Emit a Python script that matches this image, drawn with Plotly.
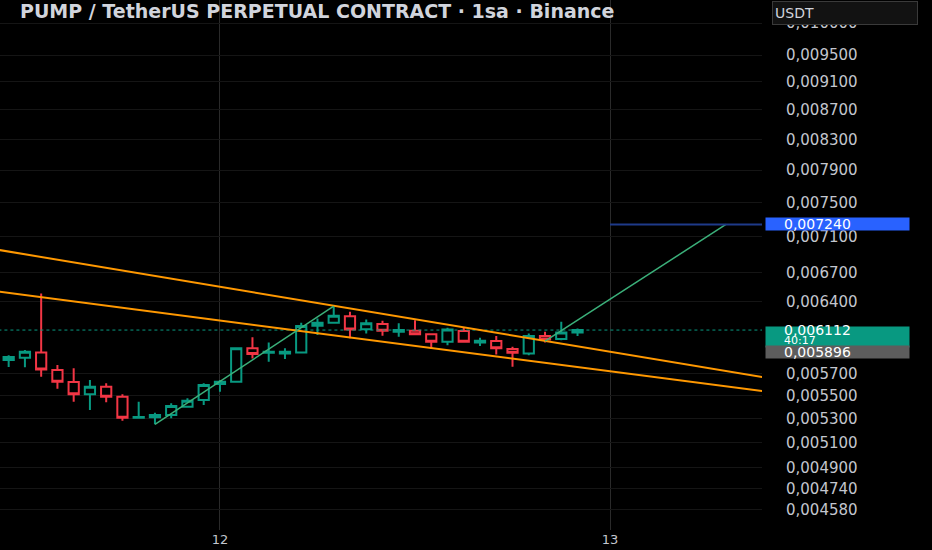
import math
import pandas as pd
import plotly.graph_objects as go

# hourly candles (1sa), 11 Jul 11:00 -> 12 Jul 22:00
times = pd.date_range('2025-07-11 11:00', periods=36, freq='h')
opens = [0.005825, 0.005846, 0.005897, 0.005732, 0.005623, 0.005513, 0.005581, 0.005492, 0.005310,
         0.005314, 0.005333, 0.005405, 0.005463, 0.005605, 0.005626, 0.005935, 0.005893, 0.005887,
         0.005897, 0.006154, 0.006184, 0.006250, 0.006121, 0.006171, 0.006095, 0.006105, 0.006070,
         0.005998, 0.006102, 0.005992, 0.006005, 0.005928, 0.005887, 0.006053, 0.006024, 0.006089]
highs = [0.005871, 0.005919, 0.006482, 0.005778, 0.005748, 0.005641, 0.005611, 0.005513, 0.005448,
         0.005353, 0.005434, 0.005478, 0.005611, 0.005641, 0.005941, 0.006041, 0.005990, 0.005935,
         0.006184, 0.006227, 0.006351, 0.006294, 0.006217, 0.006204, 0.006178, 0.006210, 0.006070,
         0.006134, 0.006134, 0.006037, 0.006053, 0.005950, 0.006079, 0.006095, 0.006194, 0.006128]
lows = [0.005760, 0.005757, 0.005671, 0.005563, 0.005448, 0.005376, 0.005443, 0.005285, 0.005308,
        0.005254, 0.005305, 0.005396, 0.005419, 0.005536, 0.005626, 0.005840, 0.005809, 0.005834,
        0.005897, 0.006063, 0.006184, 0.006031, 0.006079, 0.006056, 0.006046, 0.006063, 0.005928,
        0.005966, 0.005998, 0.005957, 0.005878, 0.005762, 0.005871, 0.005992, 0.006014, 0.006053]
closes = [0.005853, 0.005903, 0.005738, 0.005626, 0.005513, 0.005581, 0.005492, 0.005310, 0.005316,
          0.005333, 0.005411, 0.005457, 0.005596, 0.005626, 0.005935, 0.005881, 0.005903, 0.005903,
          0.006151, 0.006184, 0.006253, 0.006118, 0.006178, 0.006105, 0.006112, 0.006070, 0.005998,
          0.006118, 0.005998, 0.006008, 0.005935, 0.005893, 0.006053, 0.006021, 0.006089, 0.006112]

# drawings (time, price)
upper_t = ['2025-07-11 10:00', '2025-07-13 10:00']
upper_p = [0.006962, 0.005652]
lower_t = ['2025-07-11 10:00', '2025-07-13 10:00']
lower_p = [0.006509, 0.005530]
rise_t = ['2025-07-11 20:00', '2025-07-12 07:00']
rise_p = [0.005254, 0.006351]
proj_t = ['2025-07-12 20:00', '2025-07-13 07:08']
proj_p = [0.006005, 0.007240]
target_t = ['2025-07-13 00:00', '2025-07-13 10:00']
target_price = 0.007240
last_price = 0.006112
prev_price = 0.005896
countdown = '40:17'

tick_vals = [0.0100, 0.0095, 0.0091, 0.0087, 0.0083, 0.0079, 0.0075, 0.0071, 0.0067, 0.0064,
             0.0057, 0.0055, 0.0053, 0.0051, 0.0049, 0.00474, 0.00458]
tick_text = [f'{v:.6f}'.replace('.', ',') for v in tick_vals]

fmt = lambda v: f'{v:.6f}'.replace('.', ',')

fig = go.Figure()
fig.add_trace(go.Candlestick(
    x=times, open=opens, high=highs, low=lows, close=closes,
    increasing=dict(line=dict(color='#089981', width=2), fillcolor='#000000'),
    decreasing=dict(line=dict(color='#f23645', width=2), fillcolor='#000000'),
    showlegend=False, hoverinfo='skip'))

fig.add_trace(go.Scatter(x=lower_t, y=[last_price, last_price], mode='lines',
                         line=dict(color='#089981', width=1, dash='dot'), showlegend=False))
for tt, pp in [(upper_t, upper_p), (lower_t, lower_p)]:
    fig.add_trace(go.Scatter(x=tt, y=pp, mode='lines',
                             line=dict(color='#ff9800', width=2), showlegend=False))
for tt, pp in [(rise_t, rise_p), (proj_t, proj_p)]:
    fig.add_trace(go.Scatter(x=tt, y=pp, mode='lines',
                             line=dict(color='#3bb07a', width=1.5), showlegend=False))
fig.add_trace(go.Scatter(x=target_t, y=[target_price, target_price], mode='lines',
                         line=dict(color='#1e3a8a', width=2), showlegend=False))

annots = [
    dict(text='<b>PUMP / TetherUS PERPETUAL CONTRACT · 1sa · Binance</b>', xref='paper', yref='paper',
         x=0.024, y=0.979, xanchor='left', yanchor='middle', showarrow=False,
         font=dict(family='DejaVu Sans', size=19, color='#d1d4dc')),
    dict(text='USDT', xref='paper', yref='paper', x=1, xshift=10, y=0.9755, xanchor='left',
         yanchor='middle', showarrow=False, width=140, height=18, align='left', borderpad=2,
         bgcolor='#121212', bordercolor='#3a3a3a', borderwidth=1,
         font=dict(family='DejaVu Sans', size=14, color='#d1d4dc')),
]
# price labels on the scale: coloured box + text
for price, bg, h, anc, ys in [(target_price, '#2962ff', 12, 'middle', 0),
                              (last_price, '#089981', 20, 'top', 4),
                              (prev_price, '#5d5d5d', 12, 'middle', 0)]:
    annots.append(dict(text=' ', xref='paper', yref='y', x=1, xshift=3, y=math.log10(price),
                       xanchor='left', yanchor=anc, yshift=ys, showarrow=False, width=143, height=h,
                       borderpad=0, bgcolor=bg, font=dict(size=8)))
    annots.append(dict(text=fmt(price), xref='paper', yref='y', x=1, xshift=21, y=math.log10(price),
                       xanchor='left', yanchor='middle', showarrow=False, borderpad=0,
                       font=dict(family='DejaVu Sans', size=14, color='#ffffff')))
annots.append(dict(text=countdown, xref='paper', yref='y', x=1, xshift=21, y=math.log10(last_price),
                   yshift=-10, xanchor='left', yanchor='middle', showarrow=False, borderpad=0,
                   font=dict(family='DejaVu Sans', size=11, color='#ffffff')))

fig.update_layout(
    width=932, height=550,
    margin=dict(l=0, r=170, t=0, b=20),
    paper_bgcolor='#000000', plot_bgcolor='#000000',
    boxgap=0.1,
    annotations=annots,
    xaxis=dict(range=['2025-07-11 10:28', '2025-07-13 09:21'], rangeslider=dict(visible=False),
               tickvals=['2025-07-12', '2025-07-13'], ticktext=['12', '13'],
               showgrid=True, gridcolor='#2a2a2a', gridwidth=1, zeroline=False, showline=False,
               tickfont=dict(family='DejaVu Sans', size=13, color='#c3c6ce')),
    yaxis=dict(type='log', side='right', range=[-2.3531, -1.9839],
               tickvals=tick_vals, ticktext=tick_text, ticks='outside', ticklen=20,
               tickcolor='#000000', showgrid=True, gridcolor='#151515', zeroline=False,
               tickfont=dict(family='DejaVu Sans', size=15, color='#c3c6ce')),
)

# drop the default 8px page margin so the figure fills the window
fig.write_html('out.html', config={'displayModeBar': False},
               post_script="document.body.style.margin='0';"
                           "document.body.style.background='#000';")
